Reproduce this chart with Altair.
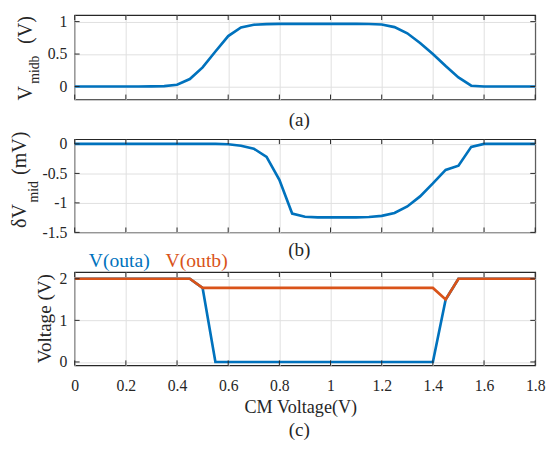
import altair as alt
import pandas as pd

FONT = "Liberation Serif"
INK = "#262626"
BLUE = "#0072BD"
ORANGE = "#D95319"
GRID = "#dfdfdf"

cm_voltage = [0.00, 0.05, 0.10, 0.15, 0.20, 0.25, 0.30, 0.35, 0.40, 0.45,
              0.50, 0.55, 0.60, 0.65, 0.70, 0.75, 0.80, 0.85, 0.90, 0.95,
              1.00, 1.05, 1.10, 1.15, 1.20, 1.25, 1.30, 1.35, 1.40, 1.45,
              1.50, 1.55, 1.60, 1.65, 1.70, 1.75, 1.80]
v_midb = [0, 0, 0, 0, 0, 0, 0.001, 0.006, 0.027, 0.115,
          0.295, 0.54, 0.777, 0.91, 0.952, 0.962, 0.965, 0.966, 0.966, 0.966,
          0.966, 0.966, 0.965, 0.963, 0.955, 0.915, 0.82, 0.67, 0.5, 0.315,
          0.14, 0.012, 0, 0, 0, 0, 0]
dv_mid = [0, 0, 0, 0, 0, 0, 0, 0, 0, 0,
          0, 0, -0.005, -0.03, -0.08, -0.22, -0.61, -1.18, -1.235, -1.245,
          -1.245, -1.245, -1.245, -1.24, -1.22, -1.17, -1.06, -0.89, -0.67, -0.44,
          -0.37, -0.05, 0, 0, 0, 0, 0]
v_outa = [2, 2, 2, 2, 2, 2, 2, 2, 2, 2,
          1.78, 0, 0, 0, 0, 0, 0, 0, 0, 0,
          0, 0, 0, 0, 0, 0, 0, 0, 0, 1.5,
          2, 2, 2, 2, 2, 2, 2]
v_outb = [2, 2, 2, 2, 2, 2, 2, 2, 2, 2,
          1.78, 1.78, 1.78, 1.78, 1.78, 1.78, 1.78, 1.78, 1.78, 1.78,
          1.78, 1.78, 1.78, 1.78, 1.78, 1.78, 1.78, 1.78, 1.78, 1.5,
          2, 2, 2, 2, 2, 2, 2]

x_ticks = [0, 0.2, 0.4, 0.6, 0.8, 1, 1.2, 1.4, 1.6, 1.8]
ya_ticks = [0, 0.5, 1]
yb_ticks = [-1.5, -1, -0.5, 0]
yc_ticks = [0, 1, 2]

W = 469.5
HA, HB, HC = 86, 95, 95
TL = 5

df = pd.DataFrame({"x": cm_voltage, "a": v_midb, "b": dv_mid,
                   "outa": v_outa, "outb": v_outb})

xscale = alt.Scale(domain=[0, 1.8], nice=False, zero=False)


def one_row():
    return pd.DataFrame({"k": [0]})


def text(s, x, y, size, color=INK, angle=None, align="left", baseline="alphabetic"):
    kw = dict(text=s, font=FONT, fontSize=size, color=color, align=align,
              baseline=baseline)
    if angle is not None:
        kw["angle"] = angle
    return alt.Chart(one_row()).mark_text(**kw).encode(x=alt.value(x), y=alt.value(y))


def xaxis(show):
    return alt.Axis(values=x_ticks, grid=True, gridColor=GRID, gridWidth=1,
                    ticks=False, tickSize=0, domain=False, labels=show, title=None,
                    labelFont=FONT, labelFontSize=16, labelColor=INK,
                    labelPadding=12.5, labelFlush=False, labelOverlap=False,
                    labelExpr="'' + datum.value")


def yaxis(vals):
    return alt.Axis(values=vals, grid=True, gridColor=GRID, gridWidth=1,
                    ticks=False, tickSize=0, domain=False, title=None,
                    labelFont=FONT, labelFontSize=16, labelColor=INK,
                    labelPadding=8, labelOverlap=False,
                    labelExpr="'' + datum.value")


def inner_ticks(H, yscale, yvals, show_x):
    xt = pd.DataFrame({"t": x_ticks})
    yt = pd.DataFrame({"t": yvals})
    r = dict(color=INK, strokeWidth=1)
    xe = alt.X("t:Q", scale=xscale, axis=xaxis(show_x))
    ye = alt.Y("t:Q", scale=yscale, axis=yaxis(yvals))
    return [
        alt.Chart(xt).mark_rule(**r).encode(x=xe, y=alt.value(0), y2=alt.value(TL)),
        alt.Chart(xt).mark_rule(**r).encode(x=xe, y=alt.value(H - TL), y2=alt.value(H)),
        alt.Chart(yt).mark_rule(**r).encode(y=ye, x=alt.value(0), x2=alt.value(TL)),
        alt.Chart(yt).mark_rule(**r).encode(y=ye, x=alt.value(W - TL), x2=alt.value(W)),
    ]


def line(field, color, yscale, yvals, show_x):
    return alt.Chart(df).mark_line(color=color, strokeWidth=2.7, clip=True).encode(
        x=alt.X("x:Q", scale=xscale, axis=xaxis(show_x)),
        y=alt.Y(f"{field}:Q", scale=yscale, axis=yaxis(yvals)),
    )


# Panel (a)
ysa = alt.Scale(domain=[-0.2, 1.1], nice=False, zero=False)
anchor = alt.Chart(one_row()).mark_rule(opacity=0).encode(
    x=alt.value(-66.5), y=alt.value(-2), y2=alt.value(0))
pa = alt.layer(
    line("a", BLUE, ysa, ya_ticks, False),
    *inner_ticks(HA, ysa, ya_ticks, False),
    anchor,
    text("V", -43.5, 87, 20.5, angle=270),
    text("midb", -36, 70, 14, angle=270),
    text("(V)", -43.5, 29.5, 20.5, angle=270),
    text("(a)", 229, 106.7, 19.5, align="center", baseline="middle"),
).properties(width=W, height=HA)

# Panel (b)
ysb = alt.Scale(domain=[-1.5, 0.08], nice=False, zero=False)
pb = alt.layer(
    line("b", BLUE, ysb, yb_ticks, False),
    *inner_ticks(HB, ysb, yb_ticks, False),
    text("\u03b4V", -49.5, 90.5, 20.5, angle=270),
    text("mid", -37, 64.5, 14, angle=270),
    text("(mV)", -49.5, 36.5, 20.5, angle=270),
    text("(b)", 229, 113.5, 19.5, align="center", baseline="middle"),
).properties(width=W, height=HB)

# Panel (c)
ysc = alt.Scale(domain=[-0.08, 2.16], nice=False, zero=False)
pc = alt.layer(
    line("outa", BLUE, ysc, yc_ticks, True),
    line("outb", ORANGE, ysc, yc_ticks, True),
    *inner_ticks(HC, ysc, yc_ticks, True),
    text("Voltage (V)", -24.5, 47.5, 19.5, angle=270, align="center"),
    text("V(outa)", 14.3, -5.3, 20, color=BLUE),
    text("V(outb)", 92.7, -5.3, 20, color=ORANGE),
    text("CM Voltage(V)", 230.5, 137.7, 18.5, align="center", baseline="middle"),
    text("(c)", 229, 161.5, 19.5, align="center", baseline="middle"),
).properties(width=W, height=HC)

chart = alt.vconcat(pa, pb, pc, spacing=40.5, bounds="flush", padding=0).configure_view(
    stroke=INK, strokeWidth=1.2)

chart.save("out.html", embed_options={"renderer": "svg", "actions": False})
